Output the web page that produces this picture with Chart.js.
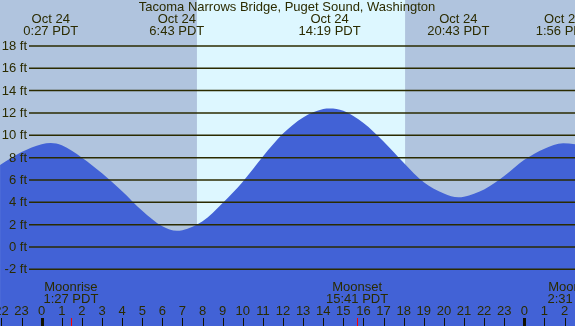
<!DOCTYPE html>
<html>
<head>
<meta charset="utf-8">
<script src="https://cdn.jsdelivr.net/npm/chart.js@4"></script>
<style>
  body { margin: 0; background: #fff; }
  #wrap { width: 575px; height: 326px; position: relative; }
</style>
</head>
<body>
<div id="wrap"><canvas id="tide"></canvas></div>
<script>
// tide curve (hours from midnight Oct 24, feet)
const tideHours = [-2.07, -1, 0, 0.45, 1, 2, 3, 4, 5, 6, 6.72, 7, 8, 9, 10, 11, 12, 13, 14, 14.32, 15, 16, 17, 18, 19, 20, 20.72, 21, 22, 23, 24, 25, 25.93, 26.52];
const tideFeet  = [7.35, 8.5, 9.2, 9.3, 9.1, 8.0, 6.6, 5.0, 3.25, 1.86, 1.46, 1.5, 2.3, 3.95, 5.85, 8.1, 10.15, 11.6, 12.35, 12.4, 12.2, 11.1, 9.45, 7.55, 5.8, 4.8, 4.45, 4.5, 5.15, 6.35, 7.8, 8.8, 9.28, 9.2];

// high / low tide times
const extremeHours = [0.45, 6.717, 14.317, 20.717, 25.933];
const extremeDates = ['Oct 24', 'Oct 24', 'Oct 24', 'Oct 24', 'Oct 25'];
const extremeTimes = ['0:27 PDT', '6:43 PDT', '14:19 PDT', '20:43 PDT', '1:56 PDT'];

// sun and moon
const sunrise = 7.72, sunset = 18.07;
const moonHours = [1.45, 15.683, 26.517];
const moonNames = ['Moonrise', 'Moonset', 'Moonrise'];
const moonTimes = ['1:27 PDT', '15:41 PDT', '2:31 PDT'];

const feetTicks = [-2, 0, 2, 4, 6, 8, 10, 12, 14, 16, 18];
const hourTicks = [];
for (let h = -2; h <= 26; h++) hourTicks.push(h);

const title = 'Tacoma Narrows Bridge, Puget Sound, Washington';

const NIGHT = '#b0c4de', DAY = '#ddf7ff', WATER = '#4262d6';
const INK = '#2b2b00';
const FONT = '13px "Liberation Sans", Arial, sans-serif';

const decorations = {
  id: 'decorations',
  beforeDatasetsDraw(chart) {
    const { ctx, chartArea: a, scales: { x } } = chart;
    ctx.save();
    ctx.fillStyle = NIGHT;
    ctx.fillRect(a.left, 0, a.right - a.left, chart.height);
    const x1 = x.getPixelForValue(sunrise), x2 = x.getPixelForValue(sunset);
    ctx.fillStyle = DAY;
    ctx.fillRect(x1, 0, x2 - x1, chart.height);
    ctx.restore();
  },
  afterDatasetsDraw(chart) {
    const { ctx, chartArea: a, scales: { x, y } } = chart;
    ctx.save();
    // horizontal lines + feet labels
    ctx.strokeStyle = INK;
    ctx.lineWidth = 1.5;
    ctx.fillStyle = INK;
    ctx.font = FONT;
    ctx.textAlign = 'right';
    ctx.textBaseline = 'middle';
    feetTicks.forEach(f => {
      const py = y.getPixelForValue(f);
      ctx.beginPath();
      ctx.moveTo(29, py);
      ctx.lineTo(a.right, py);
      ctx.stroke();
      ctx.fillText(f + ' ft', 27, py + 0.5);
    });

    // title and tide times
    ctx.textAlign = 'center';
    ctx.fillText(title, 287, 7.5);
    extremeHours.forEach((h, i) => {
      const px = x.getPixelForValue(h);
      ctx.fillText(extremeDates[i], px, 19.5);
      ctx.fillText(extremeTimes[i], px, 31.5);
    });

    // moon events
    moonHours.forEach((h, i) => {
      const px = x.getPixelForValue(h);
      ctx.fillStyle = INK;
      ctx.fillText(moonNames[i], px, 287.5);
      ctx.fillText(moonTimes[i], px, 299.5);
      ctx.fillStyle = '#ff0000';
      ctx.fillRect(Math.round(px), 318, 1, 8);
    });

    // hour labels and ticks
    hourTicks.forEach(h => {
      const px = x.getPixelForValue(h);
      ctx.fillStyle = INK;
      ctx.fillText(String((h + 24) % 24), px, 311.5);
      ctx.fillStyle = '#111100';
      if ((h + 24) % 24 === 0) ctx.fillRect(Math.round(px) - 1, 318, 3, 8);
      else ctx.fillRect(Math.round(px), 318, 1, 8);
    });
    ctx.restore();
  }
};

new Chart(document.getElementById('tide').getContext('2d'), {
  type: 'line',
  data: {
    datasets: [{
      data: tideHours.map((h, i) => ({ x: h, y: tideFeet[i] })),
      fill: 'start',
      backgroundColor: WATER,
      borderWidth: 0,
      pointRadius: 0,
      cubicInterpolationMode: 'monotone'
    }]
  },
  options: {
    responsive: true,
    maintainAspectRatio: false,
    animation: false,
    layout: { padding: 0 },
    plugins: { legend: { display: false }, tooltip: { enabled: false } },
    scales: {
      x: { type: 'linear', display: false, min: -2.074, max: 26.52 },
      y: { display: false, min: -7.07, max: 22.11 }
    }
  },
  plugins: [decorations]
});
</script>
</body>
</html>
